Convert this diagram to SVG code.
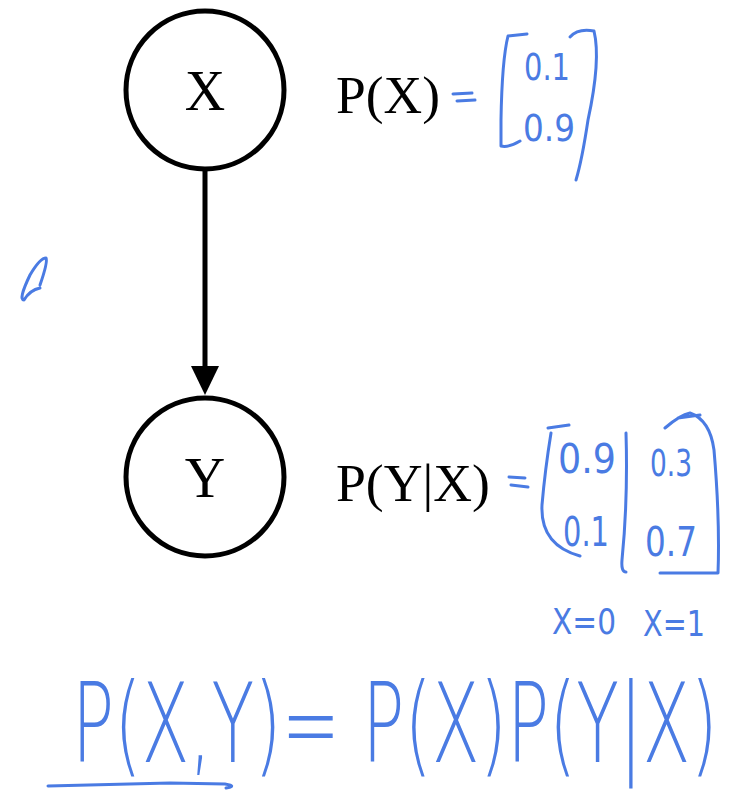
<svg xmlns="http://www.w3.org/2000/svg" width="735" height="806" viewBox="0 0 735 806">
<defs>
<style>
.node{fill:#fff;stroke:#000;stroke-width:5}
.lbl{font-family:"Liberation Serif",serif;fill:#000}
.hw{font-family:"DejaVu Sans","Liberation Sans",sans-serif;font-weight:200;fill:#4a7be3}
.hs{font-family:"DejaVu Sans","Liberation Sans",sans-serif;fill:#4a7be3}
.ink{fill:none;stroke:#4a7be3;stroke-width:3;stroke-linecap:round;stroke-linejoin:round}
</style>
</defs>
<rect width="735" height="806" fill="#fff"/>
<g id="connectors">
<line x1="205" y1="170" x2="205" y2="368" stroke="#000" stroke-width="5"/>
<path d="M191,366 L219,366 L205,395 Z" fill="#000"/>
</g>
<g id="node-X">
<circle class="node" cx="205" cy="90" r="79"/>
<text class="lbl" x="205" y="110" font-size="56" text-anchor="middle">X</text>
</g>
<g id="node-Y">
<circle class="node" cx="205" cy="477" r="79"/>
<text class="lbl" x="205" y="497" font-size="56" text-anchor="middle">Y</text>
</g>
<g id="label-PX">
<text class="lbl" x="336" y="113" font-size="52" textLength="104" lengthAdjust="spacingAndGlyphs">P(X)</text>
</g>
<g id="label-PYX">
<text class="lbl" x="336" y="501" font-size="52" textLength="154" lengthAdjust="spacingAndGlyphs">P(Y|X)</text>
</g>
<g id="annotations">
<path class="ink" d="M453,94 L472,93 M457,101 L475,100"/>
<path class="ink" d="M527,34 L508,36 Q502,60 501,120 L501,146 Q508,148 520,141"/>
<path class="ink" d="M570,37 Q578,28 594,31 Q601,60 588,120 Q582,160 576,180"/>
<text class="hs" x="524" y="80" font-size="38" textLength="46" lengthAdjust="spacingAndGlyphs">0.1</text>
<text class="hs" x="523" y="141" font-size="38" textLength="52" lengthAdjust="spacingAndGlyphs">0.9</text>
<path class="ink" d="M509,477 L525,478 M511,485 L528,487"/>
<path class="ink" d="M548,428 L569,425 M551,433 Q545,470 542,505 Q540,545 580,556"/>
<path class="ink" d="M626,433 Q628,500 622,560 Q621,572 626,572"/>
<path class="ink" d="M660,573 L718,573 Q720,520 714,450 Q710,420 690,413 Q680,415 665,428 M678,418 L700,415"/>
<text class="hs" x="558" y="473" font-size="40" textLength="58" lengthAdjust="spacingAndGlyphs">0.9</text>
<text class="hs" x="563" y="546" font-size="40" textLength="46" lengthAdjust="spacingAndGlyphs">0.1</text>
<text class="hs" x="650" y="476" font-size="38" textLength="42" lengthAdjust="spacingAndGlyphs">0.3</text>
<text class="hs" x="645" y="556" font-size="40" textLength="52" lengthAdjust="spacingAndGlyphs">0.7</text>
<text class="hs" x="552" y="634" font-size="36" textLength="64" lengthAdjust="spacingAndGlyphs">X=0</text>
<text class="hs" x="643" y="636" font-size="36" textLength="62" lengthAdjust="spacingAndGlyphs">X=1</text>
<path class="ink" d="M40,285 Q48,262 46,258 Q40,258 30,275 Q18,300 24,300 Q30,290 40,288"/>
<text class="hw" transform="translate(72,762) scale(0.635,1)" x="0" y="0" font-size="110" textLength="1017" lengthAdjust="spacingAndGlyphs">P(X,Y)= P(X)P(Y|X)</text>
<path class="ink" d="M48,786 L170,783 L225,784 Q238,786 226,788" stroke-width="4"/>
</g>
</svg>
